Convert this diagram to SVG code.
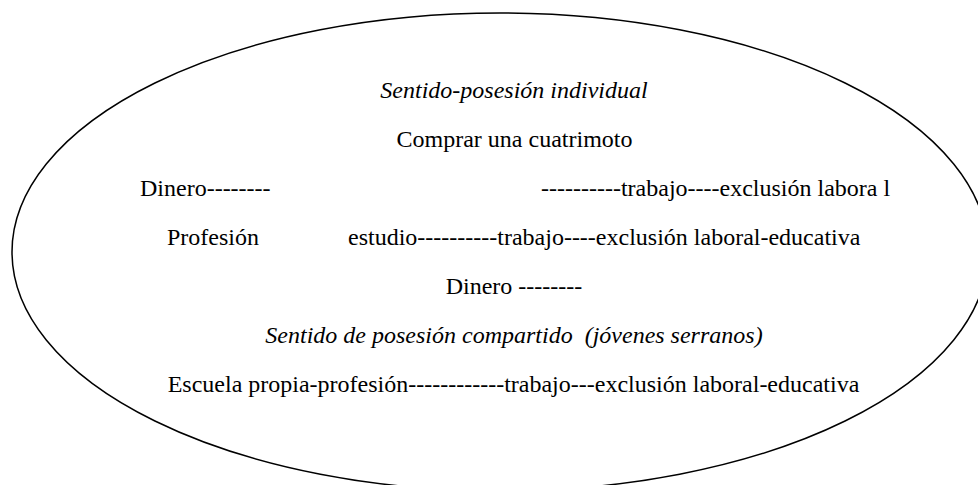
<svg xmlns="http://www.w3.org/2000/svg" width="978" height="485" viewBox="0 0 978 485">
<style>
text{font-family:'Liberation Serif','Times New Roman','DejaVu Serif',serif;font-size:24px;fill:#000}
.i{font-style:italic}
.c{text-anchor:middle}
.shape{fill:none;stroke:#000;stroke-width:1.5}
</style>
<rect width="978" height="485" fill="#fff"/>
<g id="ellipse"><ellipse class="shape" cx="500" cy="252" rx="488" ry="239"/></g>
<g id="texts">
<text class="i c" x="514" y="98">Sentido-posesión individual</text>
<text class="c" x="514.5" y="147">Comprar una cuatrimoto</text>
<text x="140" y="196">Dinero--------</text>
<text x="541" y="196">----------trabajo----exclusión labora l</text>
<text x="167" y="245">Profesión</text>
<text x="348" y="245">estudio----------trabajo----exclusión laboral-educativa</text>
<text class="c" x="514" y="294">Dinero --------</text>
<text class="i c" x="514" y="343" xml:space="preserve">Sentido de posesión compartido  (jóvenes serranos)</text>
<text class="c" x="513.5" y="392">Escuela propia-profesión------------trabajo---exclusión laboral-educativa</text>
</g>
</svg>
